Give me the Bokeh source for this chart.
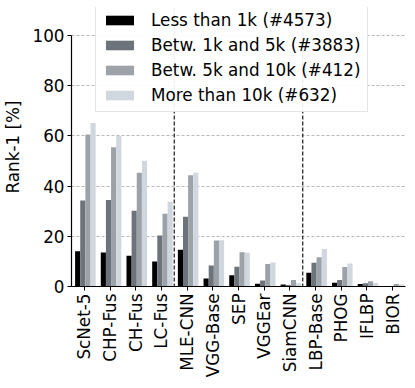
import numpy as np
from bokeh.plotting import figure
from bokeh.models import Range1d, FixedTicker, Span, Legend, LegendItem
from bokeh.embed import file_html
from bokeh.resources import INLINE
import math

categories = ["ScNet-5", "CHP-Fus", "CH-Fus", "LC-Fus", "MLE-CNN", "VGG-Base", "SEP",
              "VGGEar", "SiamCNN", "LBP-Base", "PHOG", "IFLBP", "BIOR"]
less_1k = [14.0, 13.6, 12.3, 10.0, 14.6, 3.2, 4.5, 1.1, 0.8, 5.5, 1.5, 1.0, 0.1]
btw_1k_5k = [34.3, 34.5, 30.2, 20.3, 27.8, 8.4, 7.9, 2.4, 0.6, 9.5, 2.6, 1.3, 0.1]
btw_5k_10k = [60.6, 55.5, 45.3, 29.0, 44.3, 18.3, 13.7, 9.0, 2.6, 11.7, 7.8, 2.1, 1.0]
more_10k = [65.2, 60.0, 50.1, 33.8, 45.3, 18.4, 13.5, 9.6, 1.3, 14.9, 9.2, 1.4, 0.8]
series_labels = ["Less than 1k (#4573)", "Betw. 1k and 5k (#3883)",
                 "Betw. 5k and 10k (#412)", "More than 10k (#632)"]
series_colors = ["#000000", "#6c737a", "#9ca2a7", "#d1d7de"]
y_ticks = [0, 20, 40, 60, 80, 100]
separators = [3.5, 8.5]

FONT = "DejaVu Sans"
FS = "16.8px"

p = figure(width=408, height=380, output_backend="svg", toolbar_location=None,
           x_range=Range1d(-0.5, 12.5), y_range=Range1d(0, 111.2),
           min_border_left=67, min_border_right=3, min_border_top=7, min_border_bottom=92)
p.outline_line_color = None

idx = np.arange(len(categories))
bar_w = 0.2
offsets = [-0.26, -0.06, 0.14, 0.34]
renderers = []
for vals, off, col in zip([less_1k, btw_1k_5k, btw_5k_10k, more_10k], offsets, series_colors):
    r = p.vbar(x=idx + off, top=vals, width=bar_w, bottom=0, fill_color=col, line_color=None)
    renderers.append(r)

for s in separators:
    p.add_layout(Span(location=s, dimension="height", line_color="#2a2a2a",
                      line_dash="4 2", line_width=1.3))

# axes
p.xaxis.ticker = FixedTicker(ticks=list(idx))
p.xaxis.major_label_overrides = {int(i): c for i, c in zip(idx, categories)}
p.xaxis.major_label_orientation = math.pi / 2
p.yaxis.ticker = FixedTicker(ticks=y_ticks)
p.yaxis.bounds = (0, 100)
for ax in (p.xaxis, p.yaxis):
    ax.major_label_text_font = FONT
    ax.major_label_text_font_size = FS
    ax.major_label_text_color = "#000000"
    ax.axis_line_color = "#000000"
    ax.axis_line_width = 1.2
    ax.major_tick_line_color = "#000000"
    ax.major_tick_out = 4
    ax.major_tick_in = 0
    ax.minor_tick_line_color = None
    ax.major_label_standoff = 3
p.yaxis.axis_label = "Rank-1 [%]"
p.yaxis.axis_label_text_font = FONT
p.yaxis.axis_label_text_font_size = FS
p.yaxis.axis_label_text_font_style = "normal"
p.yaxis.axis_label_text_color = "#000000"
p.yaxis.axis_label_standoff = 6

p.xgrid.grid_line_color = None
p.ygrid.grid_line_color = "#b8b8b8"
p.ygrid.grid_line_dash = "3 2"
p.ygrid.grid_line_width = 1

legend = Legend(items=[LegendItem(label=l, renderers=[r]) for l, r in zip(series_labels, renderers)],
                location=(24, 174), orientation="vertical")
legend.label_text_font = FONT
legend.label_text_font_size = FS
legend.label_text_color = "#000000"
legend.glyph_width = 35
legend.glyph_height = 12
legend.label_height = 20
legend.label_standoff = 14
legend.spacing = 5
legend.padding = 6
legend.margin = 0
legend.border_line_color = "#cccccc"
legend.border_line_width = 1
legend.background_fill_color = "white"
legend.background_fill_alpha = 0.92
p.add_layout(legend, "center")

open("out.html", "w").write(file_html(p, INLINE))
